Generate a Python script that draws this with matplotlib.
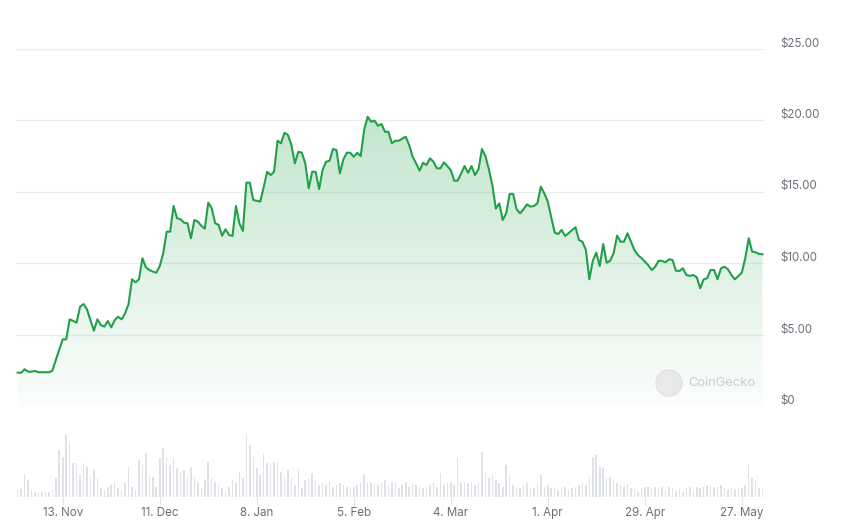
import numpy as np
import pandas as pd
import matplotlib
matplotlib.use("Agg")
import matplotlib.pyplot as plt
import matplotlib.dates as mdates
from matplotlib.patches import Ellipse

plt.rcParams['font.family'] = ['Inter', 'DejaVu Sans']

start_date = "2023-10-31"

prices = [
    2.33, 2.33, 2.57, 2.40, 2.40, 2.45, 2.36, 2.36, 2.36, 2.36,
    2.47, 3.22, 3.95, 4.66, 4.66, 6.06, 5.95, 5.83, 6.94, 7.13,
    6.76, 6.00, 5.27, 6.06, 5.66, 5.55, 5.94, 5.50, 6.01, 6.24,
    6.06, 6.48, 7.13, 8.86, 8.65, 8.86, 10.33, 9.70, 9.51, 9.40,
    9.32, 9.79, 10.68, 12.19, 12.19, 13.99, 13.13, 13.06, 12.82, 12.78,
    11.73, 13.01, 12.89, 12.60, 12.40, 14.22, 13.83, 12.78, 12.66, 11.91,
    12.36, 11.96, 11.89, 13.99, 12.78, 12.24, 15.62, 15.62, 14.41, 14.35,
    14.29, 15.30, 16.38, 16.15, 16.38, 18.55, 18.37, 19.11, 18.95, 18.25,
    16.97, 17.78, 17.71, 16.97, 15.22, 16.38, 16.38, 15.17, 16.50, 17.08,
    17.15, 17.97, 17.90, 16.27, 17.25, 17.71, 17.71, 17.43, 17.71, 17.48,
    19.30, 20.23, 19.88, 19.95, 19.60, 19.72, 19.18, 19.18, 18.37, 18.55,
    18.55, 18.70, 18.83, 18.25, 17.43, 16.97, 16.45, 17.01, 16.85, 17.32,
    17.08, 16.62, 16.62, 17.04, 16.78, 16.50, 15.76, 15.76, 16.27, 16.78,
    16.31, 16.78, 16.15, 16.55, 17.97, 17.48, 16.55, 15.45, 13.80, 14.17,
    13.01, 13.48, 14.83, 14.83, 13.76, 13.48, 13.76, 14.10, 13.94, 13.99,
    14.17, 15.34, 14.87, 14.29, 13.19, 12.12, 12.03, 12.31, 11.89, 12.08,
    12.30, 12.50, 11.61, 11.49, 10.91, 8.86, 10.16, 10.72, 9.79, 11.33,
    10.02, 10.16, 10.68, 11.91, 11.49, 11.49, 12.08, 11.50, 10.91, 10.56,
    10.35, 10.10, 9.85, 9.51, 9.74, 10.16, 10.14, 10.05, 10.26, 10.21,
    9.46, 9.44, 9.63, 9.16, 9.10, 9.16, 9.00, 8.23, 8.86, 8.93,
    9.51, 9.51, 8.86, 9.63, 9.74, 9.56, 9.16, 8.86, 9.09, 9.32,
    10.33, 11.73, 10.79, 10.75, 10.63, 10.61,
]

volumes = [
    20, 22, 68, 50, 20, 15, 12, 15, 18, 15,
    20, 55, 140, 120, 185, 165, 100, 100, 65, 100,
    90, 55, 80, 55, 25, 20, 30, 35, 45, 25,
    20, 40, 90, 30, 20, 110, 95, 130, 60, 60,
    30, 115, 145, 120, 95, 115, 85, 75, 80, 60,
    90, 55, 40, 25, 50, 105, 55, 45, 35, 25,
    15, 30, 50, 45, 75, 55, 185, 155, 120, 85,
    65, 130, 100, 95, 105, 100, 75, 60, 80, 55,
    35, 80, 25, 50, 55, 70, 50, 35, 40, 35,
    45, 30, 35, 40, 35, 30, 25, 30, 35, 45,
    65, 40, 45, 40, 35, 40, 50, 35, 45, 40,
    25, 35, 45, 30, 40, 35, 30, 25, 30, 35,
    40, 30, 70, 35, 40, 45, 35, 115, 40, 45,
    40, 45, 35, 40, 135, 70, 55, 65, 50, 40,
    30, 95, 65, 35, 30, 25, 35, 40, 30, 25,
    40, 65, 30, 35, 25, 30, 20, 25, 30, 20,
    25, 30, 35, 40, 35, 60, 120, 125, 90, 85,
    55, 60, 50, 40, 35, 30, 38, 25, 20, 15,
    25, 30, 28, 22, 30, 25, 28, 20, 30, 25,
    18, 22, 15, 25, 28, 20, 30, 25, 28, 32,
    35, 30, 28, 35, 25, 20, 25, 22, 30, 25,
    35, 95, 55, 50, 25, 22,
]

x_tick_dates = ["2023-11-13", "2023-12-11", "2024-01-08", "2024-02-05",
                "2024-03-04", "2024-04-01", "2024-04-29", "2024-05-27"]
x_tick_labels = ["13. Nov", "11. Dec", "8. Jan", "5. Feb",
                 "4. Mar", "1. Apr", "29. Apr", "27. May"]
y_ticks = [0, 5, 10, 15, 20, 25]
y_tick_labels = ["$0", "$5.00", "$10.00", "$15.00", "$20.00", "$25.00"]

LINE = "#22a049"
GREEN_RGB = (0.13, 0.63, 0.29)
GRID = "#eaecef"
LABEL = "#6b7079"

W, H = 848, 531
dates = pd.date_range(start_date, periods=len(prices), freq="D")
xnum = mdates.date2num(dates)
xlim = (xnum[0] - 0.49, xnum[0] + 215.7)

fig = plt.figure(figsize=(W / 100, H / 100), dpi=100)
fig.patch.set_facecolor("white")

def rect(l, t, r, b):
    return [l / W, 1 - b / H, (r - l) / W, (b - t) / H]

# ---------- price axes ----------
ax = fig.add_axes(rect(16, 48.5, 765, 406))
ax.set_xlim(*xlim)
ax.set_ylim(0, 25)
ax.axis("off")

for v in y_ticks:
    ax.axhline(v, color=GRID, lw=0.8, zorder=0)

for v, lab in zip(y_ticks, y_tick_labels):
    ax.annotate(lab, xy=(1, v), xycoords=("axes fraction", "data"),
                xytext=(15 * 0.72, 5.0 * 0.72), textcoords="offset points",
                ha="left", va="center", fontsize=8.3, color=LABEL)

# gradient fill under line
fill = ax.fill_between(xnum, prices, 0, color="none", lw=0)
path = fill.get_paths()[0]
n = 256
alpha = np.linspace(0.27, 0.02, n)
grad = np.zeros((n, 1, 4))
grad[:, 0, 0] = GREEN_RGB[0]
grad[:, 0, 1] = GREEN_RGB[1]
grad[:, 0, 2] = GREEN_RGB[2]
grad[:, 0, 3] = alpha
im = ax.imshow(grad, extent=[xnum[0], xnum[-1], 0, max(prices)],
               aspect="auto", origin="upper", zorder=1, interpolation="bilinear")
im.set_clip_path(path, transform=ax.transData)
ax.set_xlim(*xlim)
ax.set_ylim(0, 25)

ax.plot(xnum, prices, color=LINE, lw=1.5, zorder=3, solid_joinstyle="round")

# watermark
fig.patches.append(Ellipse((669 / W, 1 - 383 / H), 26 / W, 26 / H,
                           transform=fig.transFigure, facecolor="#e9e9e9",
                           edgecolor="#e2e2e2", lw=1, zorder=5))
fig.text(688 / W, 1 - 383 / H, "CoinGecko", fontsize=9.3, color="#cdcdcd",
         ha="left", va="center", zorder=6)

# ---------- volume axes ----------
vax = fig.add_axes(rect(16, 430, 765, 496.5))
vax.set_xlim(*xlim)
vax.set_ylim(0, 200)
vax.bar(xnum, volumes, width=0.45, color="#dfe3e8", linewidth=0)
for s in vax.spines.values():
    s.set_visible(False)
vax.axhline(0, color="#e6e8eb", lw=0.8)
vax.set_yticks([])
vax.set_xticks(mdates.date2num(pd.to_datetime(x_tick_dates)))
vax.set_xticklabels(x_tick_labels)
vax.tick_params(axis="x", direction="out", length=6, width=0.8,
                color="#dfe2e6", labelsize=8.3, labelcolor=LABEL, pad=1.5)

fig.savefig("out.png", dpi=100, facecolor="white")
